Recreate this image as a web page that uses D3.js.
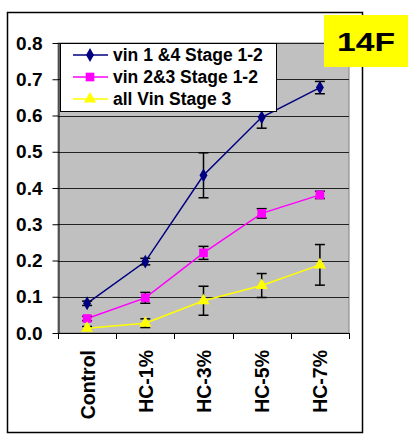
<!DOCTYPE html>
<html>
<head>
<meta charset="utf-8">
<script src="https://cdn.jsdelivr.net/npm/d3@7"></script>
<style>
  body { margin: 0; background: #fff; }
  text { font-family: "Liberation Sans", Arial, sans-serif; font-weight: bold; }
</style>
</head>
<body>
<div id="chart"></div>
<script>
const categories = ['Control', 'HC-1%', 'HC-3%', 'HC-5%', 'HC-7%'];
const yTicks = [0, 0.1, 0.2, 0.3, 0.4, 0.5, 0.6, 0.7, 0.8];
const seriesNames = ['vin 1 &4 Stage 1-2', 'vin 2&3 Stage 1-2', 'all Vin Stage 3'];
const vin14 = [0.082, 0.197, 0.435, 0.595, 0.677];
const vin14Err = [0.006, 0.009, 0.062, 0.03, 0.017];
const vin23 = [0.04, 0.097, 0.221, 0.33, 0.381];
const vin23Err = [0.006, 0.015, 0.018, 0.013, 0.01];
const stage3 = [0.013, 0.027, 0.089, 0.131, 0.188];
const stage3Err = [0.005, 0.012, 0.04, 0.033, 0.056];
const panelLabel = '14F';

const W = 408, H = 434,
    margin = { top: 43, left: 58 },
    width = 291,
    height = 290;

const svg = d3.select('#chart').append('svg')
    .attr('width', W)
    .attr('height', H);

// outer frame
svg.append('rect')
    .attr('x', 7.5).attr('y', 12.5)
    .attr('width', 355).attr('height', 420)
    .attr('fill', '#fff')
    .attr('stroke', '#000')
    .attr('stroke-width', 1.5);

const g = svg.append('g')
    .attr('transform', `translate(${margin.left}, ${margin.top})`);

const x = d3.scaleBand().domain(categories).range([0, width]);
const y = d3.scaleLinear().domain([0, 0.8]).range([height, 0]);

// plot area
g.append('rect')
    .attr('width', width).attr('height', height)
    .attr('fill', '#c0c0c0')
    .attr('stroke', '#808080');

// grid
g.append('g')
    .selectAll('line')
    .data(yTicks.slice(1))
    .enter().append('line')
        .attr('x1', 0).attr('x2', width)
        .attr('y1', d => Math.round(y(d)) + 0.5)
        .attr('y2', d => Math.round(y(d)) + 0.5)
        .attr('stroke', '#222');

// y axis
g.append('g')
    .attr('transform', 'translate(0.5, 0)')
    .call(d3.axisLeft(y).tickValues(yTicks).tickFormat(d3.format('.1f')).tickSize(6).tickSizeOuter(0))
    .call(a => a.select('.domain').attr('stroke', '#000'))
    .call(a => a.selectAll('text')
        .attr('x', -16)
        .attr('font-size', 19)
        .attr('fill', '#000')
        .attr('font-family', '"Liberation Sans", Arial, sans-serif')
        .attr('font-weight', 'bold'));

// x axis
const xTickPos = categories.map(c => x(c)).concat([width]);
g.append('line')
    .attr('x1', 0).attr('x2', width)
    .attr('y1', height + 0.5).attr('y2', height + 0.5)
    .attr('stroke', '#000');
g.append('g')
    .selectAll('line')
    .data(xTickPos)
    .enter().append('line')
        .attr('x1', d => Math.round(d) + 0.5).attr('x2', d => Math.round(d) + 0.5)
        .attr('y1', height).attr('y2', height + 6)
        .attr('stroke', '#000');

g.append('g')
    .selectAll('text')
    .data(categories)
    .enter().append('text')
        .attr('transform', d => `translate(${x(d) + x.bandwidth() / 2 + 7.5}, ${height + 17}) rotate(-90)`)
        .attr('text-anchor', 'end')
        .attr('font-size', 19.5)
        .text(d => d);

// series
const series = [
    { name: seriesNames[0], values: vin14, errs: vin14Err, color: '#000080', symbol: d3.symbolDiamond, size: 55 },
    { name: seriesNames[1], values: vin23, errs: vin23Err, color: '#ff00ff', symbol: d3.symbolSquare, size: 75 },
    { name: seriesNames[2], values: stage3, errs: stage3Err, color: '#ffff00', symbol: d3.symbolTriangle, size: 65 }
];
const cx = c => x(c) + x.bandwidth() / 2;

const line = d3.line()
    .x((d, i) => cx(categories[i]))
    .y(d => y(d));

series.forEach(s => {
    g.append('path')
        .datum(s.values)
        .attr('fill', 'none')
        .attr('stroke', s.color)
        .attr('stroke-width', 1.5)
        .attr('d', line);
});

// error bars
series.forEach(s => {
    const eb = g.append('g').attr('stroke', '#000').attr('stroke-width', 1.5);
    s.values.forEach((v, i) => {
        const px = cx(categories[i]);
        const top = y(v + s.errs[i]), bot = y(v - s.errs[i]);
        eb.append('line').attr('x1', px).attr('x2', px).attr('y1', top).attr('y2', bot);
        eb.append('line').attr('x1', px - 5).attr('x2', px + 5).attr('y1', top).attr('y2', top);
        eb.append('line').attr('x1', px - 5).attr('x2', px + 5).attr('y1', bot).attr('y2', bot);
    });
});

// markers
series.forEach(s => {
    g.append('g')
        .selectAll('path')
        .data(s.values)
        .enter().append('path')
            .attr('transform', (d, i) => `translate(${cx(categories[i])}, ${y(d)})`)
            .attr('d', d3.symbol().type(s.symbol).size(s.size))
            .attr('fill', s.color);
});

// legend
const legend = g.append('g').attr('transform', 'translate(2, 0)');
legend.append('rect')
    .attr('x', 0.5).attr('y', 0.5)
    .attr('width', 216).attr('height', 68)
    .attr('fill', '#fff')
    .attr('stroke', '#000');
series.forEach((s, i) => {
    const ly = 12 + i * 22;
    legend.append('line')
        .attr('x1', 13).attr('x2', 48)
        .attr('y1', ly).attr('y2', ly)
        .attr('stroke', s.color)
        .attr('stroke-width', 1.5);
    legend.append('path')
        .attr('transform', `translate(30, ${ly})`)
        .attr('d', d3.symbol().type(s.symbol).size(s.size))
        .attr('fill', s.color);
    legend.append('text')
        .attr('x', 53).attr('y', ly + 6)
        .attr('font-size', 17.5)
        .text(s.name);
});

// panel label
svg.append('rect')
    .attr('x', 324).attr('y', 15)
    .attr('width', 84).attr('height', 52)
    .attr('fill', '#ffff00');
svg.append('text')
    .attr('x', 337).attr('y', 51)
    .attr('font-size', 25)
    .attr('textLength', 58)
    .attr('lengthAdjust', 'spacingAndGlyphs')
    .text(panelLabel);
</script>
</body>
</html>
